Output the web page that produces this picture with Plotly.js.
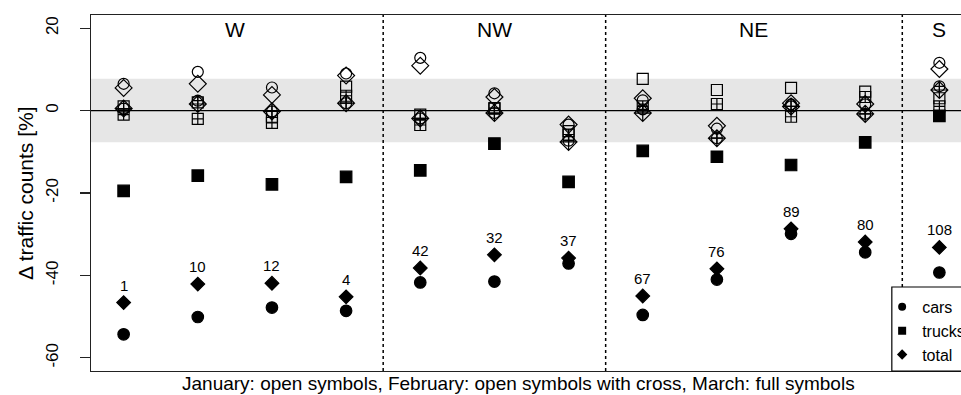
<!DOCTYPE html>
<html>
<head>
<meta charset="utf-8">
<script src="https://cdn.plot.ly/plotly-3.0.1.min.js"></script>
<style>
  html, body { margin: 0; padding: 0; background: #ffffff; overflow: hidden; }
  #chart { width: 1000px; height: 395px; }
</style>
</head>
<body>
<div id="chart"></div>
<script>
// Station positions along the x axis, grouped by region
const stationPos = [1, 2, 3, 4, 5, 6, 7, 8, 9, 10, 11, 12];
const regionNames = ['W', 'NW', 'NE', 'S'];
const regionCentres = [2.5, 6, 9.5, 12];
const regionBreaks = [4.5, 7.5, 11.5];

// Change in traffic counts [%] per station
const carsJan   = [6.5, 9.4, 5.6, 9.0, 12.8, 4.2, -3.4, 2.5, -4.4, 1.5, 1.5, 11.6];
const trucksJan = [1.0, 2.0, -1.5, 5.8, -1.0, 0.5, -5.0, 7.7, 5.0, 5.5, 4.6, 3.0];
const totalJan  = [5.5, 6.5, 3.8, 8.5, 10.9, 3.3, -3.4, 3.0, -3.7, 1.8, 1.6, 10.1];

const carsFeb   = [0.5, 2.4, -0.2, 1.8, -1.9, -0.6, -7.3, 0.3, -6.7, 1.0, -0.8, 5.9];
const trucksFeb = [-1.0, -2.0, -3.0, 3.6, -3.5, 0.6, -5.8, 1.0, 1.6, -1.5, 3.3, 1.0];
const totalFeb  = [0.5, 1.6, -0.2, 1.8, -1.9, -0.6, -7.6, -0.6, -6.7, 1.0, -0.8, 5.0];

const carsMar   = [-54.3, -50.1, -47.8, -48.6, -41.7, -41.5, -37.1, -49.6, -41.0, -29.9, -34.4, -39.3];
const trucksMar = [-19.5, -15.8, -17.9, -16.1, -14.5, -8.0, -17.3, -9.8, -11.2, -13.2, -7.7, -1.3];
const totalMar  = [-46.6, -42.1, -41.9, -45.2, -38.2, -35.0, -35.8, -45.0, -38.4, -28.7, -31.9, -33.2];

// Numbers printed above the March totals
const countLabels = ['1', '10', '12', '4', '42', '32', '37', '67', '76', '89', '80', '108'];

// Band of typical variation around zero
const bandHalfWidth = 7.7;

const FONT = 'Liberation Sans, Arial, Helvetica, sans-serif';

function pts(y, symbol, size) {
  return {
    x: stationPos, y: y, type: 'scatter', mode: 'markers', showlegend: false,
    hoverinfo: 'y',
    marker: { symbol: symbol, size: size, color: '#000000', line: { color: '#000000', width: 1.2 } }
  };
}

const traces = [
  pts(carsJan, 'circle-open', 11),
  pts(trucksJan, 'square-open', 11),
  pts(totalJan, 'diamond-open', 13),
  pts(carsFeb, 'circle-cross-open', 11),
  pts(trucksFeb, 'square-cross-open', 11),
  pts(totalFeb, 'diamond-cross-open', 13),
  pts(carsMar, 'circle', 11.5),
  pts(trucksMar, 'square', 11.5),
  pts(totalMar, 'diamond', 10.5)
];

// Legend keys
[['cars', 'circle'], ['trucks', 'square'], ['total', 'diamond']].forEach(([name, sym]) => {
  traces.push({
    x: [null], y: [null], type: 'scatter', mode: 'markers', name: name, showlegend: true,
    marker: { symbol: sym, size: 8, color: '#000000' }
  });
});

const shapes = [
  { type: 'rect', xref: 'paper', x0: 0, x1: 1, yref: 'y', y0: -bandHalfWidth, y1: bandHalfWidth,
    fillcolor: '#e6e6e6', line: { width: 0 }, layer: 'below' },
  { type: 'line', xref: 'paper', x0: 0, x1: 1, yref: 'y', y0: 0, y1: 0,
    line: { color: '#000000', width: 1.3 }, layer: 'below' }
];
regionBreaks.forEach(b => {
  shapes.push({ type: 'line', xref: 'x', x0: b, x1: b, yref: 'paper', y0: 0, y1: 1,
    line: { color: '#000000', width: 1.5, dash: 'dot' }, layer: 'below' });
});
// legend box
shapes.push({ type: 'rect', xref: 'paper', x0: 0.909, x1: 1.2, yref: 'paper', y0: 0, y1: 0.236,
  fillcolor: '#ffffff', line: { color: '#000000', width: 1.2 }, layer: 'above' });

const annotations = [];
regionNames.forEach((n, i) => {
  annotations.push({ x: regionCentres[i], y: 19.7, xref: 'x', yref: 'y', text: n, showarrow: false,
    xanchor: 'center', yanchor: 'middle', font: { family: FONT, size: 21, color: '#000000' } });
});
countLabels.forEach((t, i) => {
  annotations.push({ x: stationPos[i], y: totalMar[i], xref: 'x', yref: 'y', text: t, showarrow: false,
    xanchor: 'center', yanchor: 'middle', yshift: 17.5, font: { family: FONT, size: 15, color: '#000000' } });
});
annotations.push({ x: 0.4847, y: -0.034, xref: 'paper', yref: 'paper', showarrow: false,
  xanchor: 'center', yanchor: 'middle',
  text: 'January: open symbols, February: open symbols with cross, March: full symbols',
  font: { family: FONT, size: 19, color: '#000000' } });
annotations.push({ x: -0.0749, y: 0.5, xref: 'paper', yref: 'paper', showarrow: false,
  xanchor: 'center', yanchor: 'middle', textangle: -90,
  text: 'Δ traffic counts [%]',
  font: { family: FONT, size: 21, color: '#000000' } });

const layout = {
  width: 1000, height: 395,
  margin: { l: 91, r: 28, t: 15, b: 24, pad: 0 },
  paper_bgcolor: '#ffffff', plot_bgcolor: '#ffffff',
  font: { family: FONT, color: '#000000' },
  xaxis: {
    range: [0.56, 12.44], showgrid: false, zeroline: false, showticklabels: false, ticks: '',
    showline: true, mirror: true, linecolor: '#222222', linewidth: 1.3
  },
  yaxis: {
    range: [-63.2, 23.2], tickvals: [-60, -40, -20, 0, 20], ticktext: ['-60', '-40', '-20', '0', '20'],
    ticks: 'outside', ticklen: 10, tickwidth: 1.2, tickcolor: '#222222', tickangle: -90,
    ticklabelstandoff: 15,
    tickfont: { family: FONT, size: 17, color: '#000000' },
    showgrid: false, zeroline: false, showline: true, mirror: true, linecolor: '#222222', linewidth: 1.3
  },
  showlegend: true,
  legend: {
    x: 0.898, xanchor: 'left', y: 0.2276, yanchor: 'top',
    bgcolor: 'rgba(0,0,0,0)', borderwidth: 0,
    font: { family: FONT, size: 16, color: '#000000' },
    itemclick: false
  },
  shapes: shapes,
  annotations: annotations
};

Plotly.newPlot('chart', traces, layout, { staticPlot: true, displayModeBar: false });
</script>
</body>
</html>
